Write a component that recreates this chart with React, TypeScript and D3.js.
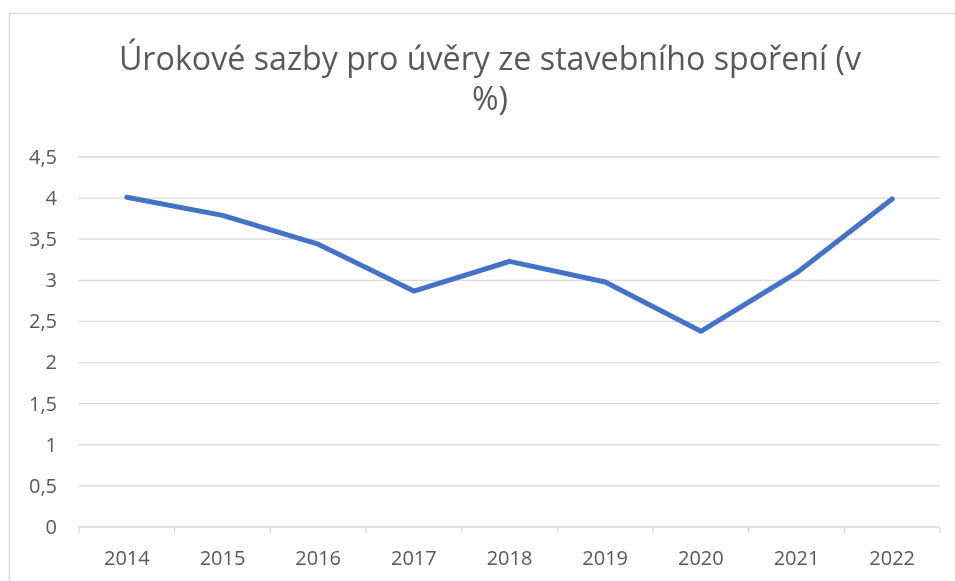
import * as d3 from 'd3';
import React, { useRef, useEffect } from 'react';

const years = ['2014', '2015', '2016', '2017', '2018', '2019', '2020', '2021', '2022'];
const rates = [4.01, 3.79, 3.44, 2.87, 3.23, 2.98, 2.38, 3.09, 3.99];
const yTicks = [0, 0.5, 1, 1.5, 2, 2.5, 3, 3.5, 4, 4.5];
const titleLines = ['Úrokové sazby pro úvěry ze stavebního spoření (v', '%)'];

const width = 955;
const height = 581;
const font = '"Open Sans", Lato, sans-serif';

function LineChart() {
    const ref = useRef<SVGSVGElement>(null);

    useEffect(() => {
        const svg = d3.select(ref.current);
        svg.selectAll('*').remove();

        const left = 79, right = 940, top = 157, bottom = 527;

        // chart border, only left and top edges are in view
        svg.append('path')
            .attr('d', `M9.5,${height}V13.5H${width}`)
            .attr('fill', 'none')
            .attr('stroke', '#d9d9d9')
            .attr('stroke-width', 1.5);

        // wrapped title as one text element
        svg.append('text')
            .attr('text-anchor', 'middle')
            .attr('font-family', font)
            .attr('font-size', 32.2)
            .attr('fill', '#595959')
            .selectAll('tspan')
            .data(titleLines)
            .join('tspan')
            .attr('x', 490)
            .attr('y', (d, i) => 70 + i * 40)
            .text(d => d);

        const x = d3.scaleBand().domain(years).range([left, right]);
        const y = d3.scaleLinear().domain([0, 4.5]).range([bottom, top]);

        // gridlines
        svg.append('g')
            .selectAll('line')
            .data(yTicks.slice(1))
            .join('line')
            .attr('x1', left).attr('x2', right)
            .attr('y1', d => y(d)).attr('y2', d => y(d))
            .attr('stroke', '#d9d9d9')
            .attr('stroke-width', 1.3);

        const fmt = (d: number) => String(d).replace('.', ',');
        const yAxis = svg.append('g')
            .attr('transform', `translate(${left},0)`)
            .call(d3.axisLeft(y).tickValues(yTicks).tickFormat(d => fmt(d as number)).tickSize(0).tickPadding(22));
        yAxis.select('.domain').remove();
        yAxis.selectAll('text')
            .attr('font-family', font)
            .attr('font-size', 20)
            .attr('fill', '#595959');

        // x axis with ticks at category boundaries
        const xAxis = svg.append('g').attr('transform', `translate(0,${bottom})`);
        xAxis.append('line')
            .attr('x1', left).attr('x2', right)
            .attr('stroke', '#d9d9d9').attr('stroke-width', 1.3);
        const bounds = years.map(d => x(d) as number).concat([right]);
        xAxis.selectAll('line.tick')
            .data(bounds)
            .join('line')
            .attr('class', 'tick')
            .attr('x1', d => d).attr('x2', d => d)
            .attr('y1', 0).attr('y2', 6)
            .attr('stroke', '#d9d9d9').attr('stroke-width', 1.3);
        xAxis.selectAll('text')
            .data(years)
            .join('text')
            .attr('x', d => (x(d) as number) + x.bandwidth() / 2)
            .attr('y', 38)
            .attr('text-anchor', 'middle')
            .attr('font-family', font)
            .attr('font-size', 20)
            .attr('fill', '#595959')
            .text(d => d);

        const line = d3.line<number>()
            .x((d, i) => (x(years[i]) as number) + x.bandwidth() / 2)
            .y(d => y(d));

        svg.append('path')
            .datum(rates)
            .attr('d', line)
            .attr('fill', 'none')
            .attr('stroke', '#4472C4')
            .attr('stroke-width', 5)
            .attr('stroke-linecap', 'round')
            .attr('stroke-linejoin', 'round');
    }, []);

    return <svg ref={ref} width={width} height={height}
        style={{ display: 'block', position: 'fixed', left: 0, top: 0 }} />;
}

export default function App() {
    return <LineChart />;
}
